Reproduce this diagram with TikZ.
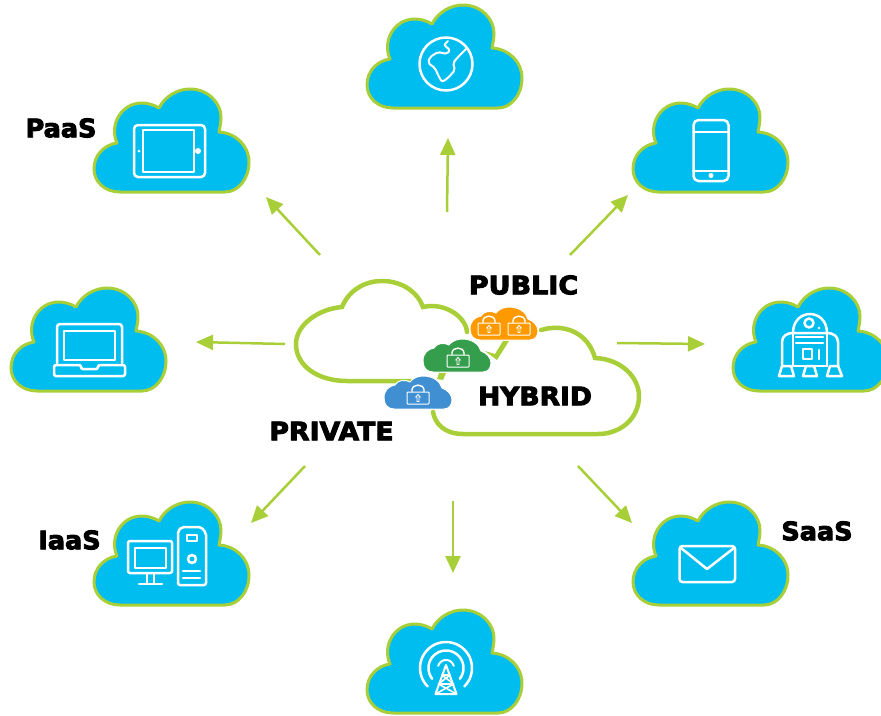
\documentclass[tikz,border=0pt]{standalone}
\usepackage{fontspec}
\usetikzlibrary{arrows.meta}
\newfontfamily\lblfont[FakeBold=3.5]{DejaVu Sans Bold}
\definecolor{cloudblue}{HTML}{00BDF0}
\definecolor{leaf}{HTML}{A8CF38}
\definecolor{smblue}{HTML}{3F8FD2}
\definecolor{smgreen}{HTML}{349E4C}
\definecolor{smorange}{HTML}{FF9900}
\newcommand{\lbltext}[2]{\scalebox{#1}[1]{\lblfont\fontsize{25.5}{25.5}\selectfont #2}}
\tikzset{
  x=1pt,y=-1pt,
  iconline/.style={draw=white,line width=2.5pt,line join=round,line cap=round},
  flow/.style={draw=leaf,line width=2.5pt,-{Triangle[length=17pt,width=15pt]}},
  rim/.style={draw=leaf,line width=4.5pt,line cap=round,fill=none},
  lbl/.style={inner sep=0pt,text=black},
  bigcloud/.pic={
    \path[fill=cloudblue,draw=leaf,line width=3pt,line join=round]
      (27,103) .. controls (12,103) and (1,93) .. (1,80)
      .. controls (1,66) and (11,56) .. (24,54)
      .. controls (16,36) and (28,14) .. (49,14)
      .. controls (55,14) and (61,16) .. (66,19)
      .. controls (72,7) and (85,0) .. (97,0)
      .. controls (115,0) and (128,14) .. (128,28)
      .. controls (128,33) and (127,38) .. (126,43)
      .. controls (143,44) and (156,57) .. (156,73)
      .. controls (156,90) and (145,103) .. (132,103) -- cycle;
  },
  smallcloud/.pic={
    \path[fill=#1,draw=white,line width=1pt]
      (10,33) .. controls (4,33) and (0,29) .. (0,22)
      .. controls (0,14) and (5,10) .. (11,9)
      .. controls (14,4) and (21,3) .. (26,6)
      .. controls (29,2) and (34,0) .. (39,0)
      .. controls (49,0) and (56,5) .. (58,12)
      .. controls (64,14) and (68,19) .. (68,24)
      .. controls (68,29) and (65,33) .. (60,33) -- cycle;
  },
  lockicon/.pic={
    \path[draw=white,line width=1pt,rounded corners=0.8pt] (-11,-6) rectangle (11,6);
    \path[draw=white,line width=1.4pt] (-6,-6) -- (-6,-8) .. controls (-6,-14.5) and (6,-14.5) .. (6,-8) -- (6,-6);
    \path[draw=white,line width=0.8pt] (0,-3.5) -- (2.3,-1) -- (1,-1) -- (1,3.5) -- (-1,3.5) -- (-1,-1) -- (-2.3,-1) -- cycle;
  }
}
\begin{document}
\begin{tikzpicture}
\clip (0,0) rectangle (881,715);
\fill[white] (0,0) rectangle (881,715);

% clouds
\coordinate (cTop) at (366,5);
\coordinate (cPaas) at (93,89);
\coordinate (cPhone) at (632,89);
\coordinate (cLaptop) at (10,288);
\coordinate (cRobot) at (732,288);
\coordinate (cIaas) at (93,502);
\coordinate (cSaas) at (632,502);
\coordinate (cBottom) at (366,610);
\foreach \c in {cTop,cPaas,cPhone,cLaptop,cRobot,cIaas,cSaas,cBottom}
  \pic at (\c) {bigcloud};

% arrows
\coordinate (a1) at (447,212); \coordinate (b1) at (448,138);
\coordinate (a2) at (320,255); \coordinate (b2) at (266,197);
\coordinate (a3) at (570,255); \coordinate (b3) at (628,195);
\coordinate (a4) at (285,344); \coordinate (b4) at (196,342);
\coordinate (a5) at (617,343); \coordinate (b5) at (705,344);
\coordinate (a6) at (305,466); \coordinate (b6) at (251,523);
\coordinate (a7) at (453,501); \coordinate (b7) at (453,573);
\coordinate (a8) at (578,466); \coordinate (b8) at (632,523);
\foreach \i in {1,...,8} \draw[flow] (a\i) -- (b\i);

% central clouds
\path[rim] (410,381) -- (347,381)
  .. controls (318,381) and (296,366) .. (296,344)
  .. controls (296,325) and (318,309) .. (342,307)
  .. controls (349,290) and (365,281) .. (382,281)
  .. controls (403,281) and (418,293) .. (423,307)
  .. controls (445,302) and (466,317) .. (467,332);
\path[rim] (541,330) .. controls (565,323) and (588,333) .. (595,358)
  .. controls (622,359) and (639,378) .. (639,396)
  .. controls (639,419) and (620,434) .. (598,434)
  -- (463,434) .. controls (445,434) and (435,424) .. (433,412);
\fill[leaf] (485,351) -- (495,354) -- (503,341) -- (509,341) -- (497,360) -- cycle;
\fill[leaf] (439,373) -- (446,373) -- (443,380) -- (437,379) -- cycle;

% small clouds
\pic at (470,307) {smallcloud=smorange};
\pic at (423,339) {smallcloud=smgreen};
\pic at (384,376) {smallcloud=smblue};
\pic at (489,329) {lockicon};
\pic at (519,329) {lockicon};
\pic at (458,361) {lockicon};
\pic at (418,398) {lockicon};

% tablet
\draw[iconline,rounded corners=4pt] (134,125) rectangle (205,177);
\draw[iconline] (143,130) rectangle (194,172);
\fill[white] (139,151) circle[radius=1.5pt] (198,151) circle[radius=3pt];

% globe
\draw[iconline] (446,64) circle[radius=26.5pt];
\draw[iconline,line width=2pt,rounded corners=2pt] (448,41) -- (444,45) -- (450,50) -- (447,54) -- (438,52) -- (430,57) -- (428,63) -- (435,68) -- (438,75) -- (442,82) -- (448,78) -- (455,70) -- (453,63) -- (458,57) -- (467,48);

% phone
\draw[iconline,rounded corners=5pt] (693.5,120) rectangle (728.5,181);
\draw[iconline] (693.5,132) -- (728.5,132) (693.5,171) -- (728.5,171);
\fill[white] (711,175.5) circle[radius=2.5pt];

% laptop
\draw[iconline,rounded corners=3pt] (57,363) -- (57,324) -- (122,324) -- (122,363);
\draw[iconline] (64,331) rectangle (115,360);
\draw[iconline,rounded corners=1.5pt] (54,365) -- (81,365) -- (81,369) -- (98,369) -- (98,365) -- (125,365) -- (125,376) -- (54,376) -- cycle;

% robot
\draw[iconline] (793,333) .. controls (793,320) and (802,314) .. (810,314) .. controls (818,314) and (827,320) .. (827,333);
\draw[iconline] (782,367) -- (782,342) .. controls (782,336) and (787,333) .. (793,333) -- (827,333) .. controls (833,333) and (838,336) .. (838,342) -- (838,367);
\draw[iconline] (793,333) -- (793,366) (827,333) -- (827,366);
\draw[iconline] (809,323) circle[radius=4.5pt];
\fill[white] (819,328) circle[radius=1.3pt];
\draw[iconline] (796,337) -- (823,337) (796,343) -- (823,343);
\draw[iconline] (803,349) rectangle (812,359);
\draw[iconline] (819,350) -- (819,359);
\draw[iconline] (793,366) -- (827,366);
\draw[iconline] (782,366) -- (791,366) -- (794,376) -- (779,376) -- cycle;
\draw[iconline] (806,366) -- (814,366) -- (817,376) -- (803,376) -- cycle;
\draw[iconline] (830,366) -- (838,366) -- (842,376) -- (827,376) -- cycle;

% desktop
\draw[iconline,rounded corners=2pt] (128,541) rectangle (172,573);
\draw[iconline] (135,548) rectangle (166,568);
\draw[iconline] (147,573) -- (147,584) (154,573) -- (154,584) (139,584) -- (162,584);
\draw[iconline,rounded corners=2pt] (178,585) -- (178,531) -- (182,527) -- (201,527) -- (206,533) -- (206,585) -- cycle;
\draw[iconline] (187,535) rectangle (197,541);
\draw[iconline] (192,559) circle[radius=4pt];
\draw[iconline] (183,571) -- (200,571) (183,578) -- (200,578);

% mail
\draw[iconline,rounded corners=3pt] (679.5,546) rectangle (735,582);
\draw[iconline] (681,548) -- (707,569) -- (734,548);

% antenna
\draw[iconline] plot[domain=-45:225,samples=40,smooth] ({446+26*cos(\x)},{668-26*sin(\x)});
\draw[iconline] plot[domain=-38:218,samples=40,smooth] ({446+17.5*cos(\x)},{668-17.5*sin(\x)});
\draw[iconline,line width=2pt] plot[domain=15:165,samples=20,smooth] ({446+8*cos(\x)},{668-8*sin(\x)});
\draw[iconline,line width=2pt] (446,665) -- (435.5,694) -- (456.5,694) -- cycle;
\draw[iconline,line width=1.6pt] (442,675) -- (450,675) (438.5,684) -- (453.5,684) (442,675) -- (453.5,684) (450,675) -- (438.5,684) (438.5,684) -- (456.5,694) (453.5,684) -- (435.5,694);

% labels
\node[lbl] (lPublic) at (523.5,285) {\lbltext{1.06}{PUBLIC}};
\node[lbl] (lHybrid) at (535,396) {\lbltext{1.04}{HYBRID}};
\node[lbl] (lPrivate) at (331.5,431) {\lbltext{1.05}{PRIVATE}};
\node[lbl] (lPaas) at (61,128) {\lbltext{1.0}{PaaS}};
\node[lbl] (lIaas) at (69.5,540) {\lbltext{1.0}{IaaS}};
\node[lbl] (lSaas) at (817,531) {\lbltext{1.0}{SaaS}};
\end{tikzpicture}
\end{document}
